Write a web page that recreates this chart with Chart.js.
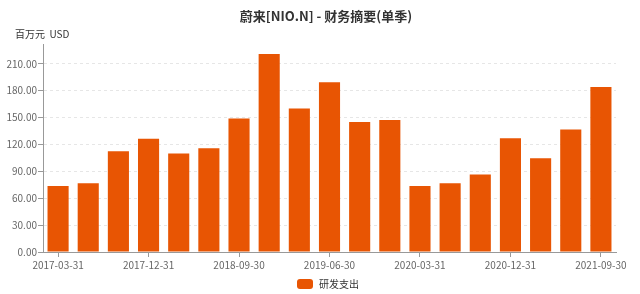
<!DOCTYPE html>
<html><head><meta charset="utf-8">
<script src="https://cdn.jsdelivr.net/npm/chart.js@4/dist/chart.umd.min.js"></script>
<style>html,body{margin:0;padding:0;background:#fff}#wrap{width:640px;height:294px;position:relative}</style>
</head><body><div id="wrap"><canvas id="c"></canvas></div>
<script>
const categories = ['2017-03-31','2017-06-30','2017-09-30','2017-12-31','2018-03-31','2018-06-30','2018-09-30','2018-12-31','2019-03-31','2019-06-30','2019-09-30','2019-12-31','2020-03-31','2020-06-30','2020-09-30','2020-12-31','2021-03-31','2021-06-30','2021-09-30'];
const rdSpending = [73.7, 76.7, 112.5, 126.3, 109.9, 115.8, 149.0, 220.9, 160.1, 189.2, 144.9, 147.1, 73.7, 76.7, 86.4, 127.0, 104.7, 136.7, 184.0];
const yTickValues = [0, 30, 60, 90, 120, 150, 180, 210];
const chartTitle = '蔚来[NIO.N] - 财务摘要(单季)';
const unitLabel = '百万元  USD';
const seriesName = '研发支出';
const BAR_COLOR = '#e85503';
const FONT = "'Noto Sans CJK SC', 'Noto Sans', sans-serif";

const decorPlugin = {
  id: 'decor',
  afterDraw(chart) {
    const ctx = chart.ctx;
    ctx.save();
    // title
    ctx.font = 'bold 13px ' + FONT;
    ctx.fillStyle = '#333';
    ctx.textBaseline = 'middle';
    ctx.textAlign = 'center';
    ctx.fillText(chartTitle, 326, 16);
    // unit label
    ctx.font = '10px ' + FONT;
    ctx.textAlign = 'left';
    ctx.fillText(unitLabel, 15, 34);
    // legend
    const ds = chart.data.datasets[0];
    ctx.fillStyle = ds.backgroundColor;
    ctx.beginPath();
    if (ctx.roundRect) ctx.roundRect(297, 279, 16, 10, 3); else ctx.rect(297, 279, 16, 10);
    ctx.fill();
    ctx.fillStyle = '#333';
    ctx.fillText(ds.label, 319, 284);
    ctx.restore();
  }
};

new Chart(document.getElementById('c'), {
  type: 'bar',
  data: {
    labels: categories,
    datasets: [{
      label: seriesName,
      data: rdSpending,
      backgroundColor: BAR_COLOR,
      borderWidth: 0,
      barPercentage: 0.7,
      categoryPercentage: 1
    }]
  },
  options: {
    responsive: true,
    maintainAspectRatio: false,
    animation: false,
    devicePixelRatio: 1,
    layout: { padding: { left: 0, right: 24, top: 44, bottom: 20 } },
    plugins: {
      title: { display: false },
      legend: { display: false },
      tooltip: { enabled: false }
    },
    scales: {
      x: {
        grid: { drawOnChartArea: false, offset: false, tickLength: 5, tickColor: '#999' },
        border: { color: '#999' },
        ticks: { color: '#666', font: { family: FONT, size: 10 }, autoSkip: false, maxRotation: 0, padding: 2 },
        afterBuildTicks(s) { s.ticks = s.ticks.filter((t, i) => i % 3 === 0); },
        afterFit(s) { s.height = 22; s.paddingLeft = 0; s.paddingRight = 0; }
      },
      y: {
        min: 0, max: 232,
        grid: { color: '#e6e6e6', tickLength: 5, tickColor: '#999' },
        border: { color: '#999', dash: [3, 3] },
        ticks: { color: '#666', font: { family: FONT, size: 10 }, padding: 1, callback: v => Number(v).toFixed(2) },
        afterBuildTicks(s) { s.ticks = yTickValues.map(v => ({ value: v })); },
        afterFit(s) { s.width = 43; s.paddingTop = 0; s.paddingBottom = 0; }
      }
    }
  },
  plugins: [decorPlugin]
});
</script>
</body></html>
